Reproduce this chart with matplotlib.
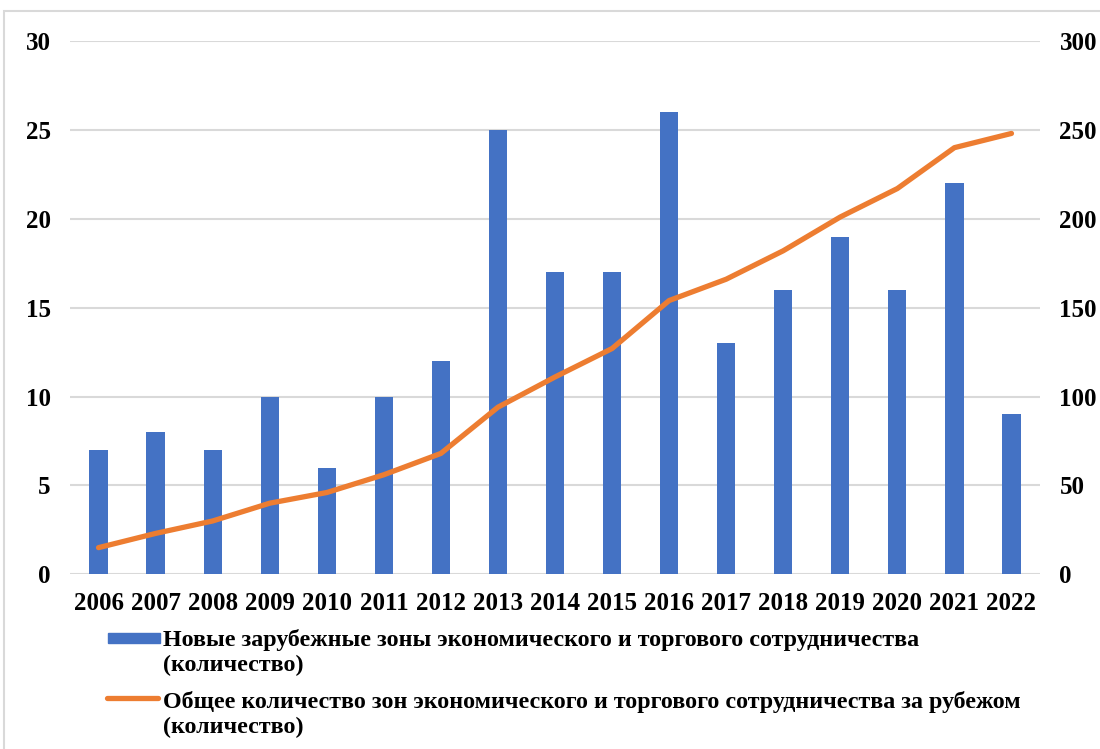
import matplotlib.pyplot as plt
from matplotlib.patches import Rectangle
from matplotlib.lines import Line2D
import numpy as np

years = ['2006', '2007', '2008', '2009', '2010', '2011', '2012', '2013', '2014',
         '2015', '2016', '2017', '2018', '2019', '2020', '2021', '2022']
new_zones = [7, 8, 7, 10, 6, 10, 12, 25, 17, 17, 26, 13, 16, 19, 16, 22, 9]
total_zones = [15, 23, 30, 40, 46, 56, 68, 94, 111, 127, 154, 166, 182, 201, 217, 240, 248]

bar_label = "Новые зарубежные зоны экономического и торгового сотрудничества\n(количество)"
line_label = "Общее количество зон экономического и торгового сотрудничества за рубежом\n(количество)"

BLUE = '#4472C4'
ORANGE = '#ED7D31'
GRID = '#d9d9d9'

plt.rcParams['font.family'] = ['Liberation Serif', 'DejaVu Serif']
plt.rcParams['font.weight'] = 'bold'

W, H = 1100, 749
fig = plt.figure(figsize=(11, 7.49), dpi=100)
ax = fig.add_axes([70 / W, 1 - 574.3 / H, 970 / W, (574.3 - 41) / H])
ax2 = ax.twinx()

x = np.arange(len(years))
ax.bar(x, new_zones, width=0.32, color=BLUE, zorder=2)
ax2.plot(x, total_zones, color=ORANGE, lw=3.8, solid_capstyle='round',
         solid_joinstyle='round', zorder=3)

ax.set_xlim(-0.5, len(years) - 0.5)
ax.set_ylim(0, 30)
ax2.set_ylim(0, 300)
ax.set_yticks(range(0, 31, 5))
ax2.set_yticks(range(0, 301, 50))
ax.set_xticks(x)
ax.set_xticklabels(years)

ax.grid(axis='y', color=GRID, lw=1.5, zorder=0)
ax.set_axisbelow(True)
for a in (ax, ax2):
    for s in a.spines.values():
        s.set_visible(False)
    a.tick_params(length=0, labelsize=18)
ax.tick_params(axis='y', pad=14)
ax2.tick_params(axis='y', pad=14)
ax.tick_params(axis='x', pad=13)

# outer chart frame
fig.add_artist(Rectangle((4 / W, -0.1), 1.2, 1 - 11 / H + 0.1,
                         transform=fig.transFigure, fill=False,
                         edgecolor='#d9d9d9', lw=1.5))

# legend drawn below the axes
fig.add_artist(Rectangle((108 / W, 1 - 643 / H), 52 / W, 10 / H,
                         transform=fig.transFigure, color=BLUE))
fig.add_artist(Line2D([107 / W, 158 / W], [1 - 698 / H, 1 - 698 / H],
                      transform=fig.transFigure, color=ORANGE, lw=3.8,
                      solid_capstyle='round'))
fig.text(163 / W, 1 - 629 / H, bar_label, fontsize=17.3, va='top',
         linespacing=1.25)
fig.text(163 / W, 1 - 691 / H, line_label, fontsize=17.3, va='top',
         linespacing=1.25)

fig.savefig('out.png', dpi=100)
